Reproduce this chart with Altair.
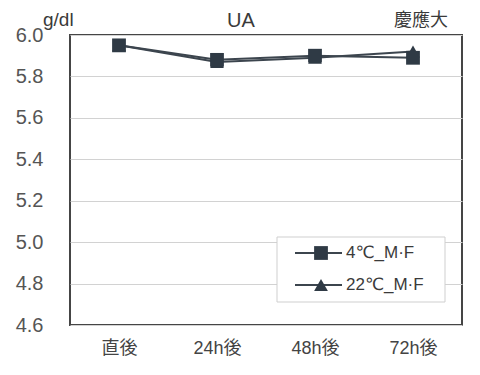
import altair as alt
import pandas as pd

# ---- data ----
times = ["直後", "24h後", "48h後", "72h後"]
series_names = ["4℃_M·F", "22℃_M·F"]
values_4c = [5.95, 5.88, 5.90, 5.89]
values_22c = [5.95, 5.87, 5.89, 5.92]
y_ticks = [4.6, 4.8, 5.0, 5.2, 5.4, 5.6, 5.8, 6.0]
shapes = ["square", "triangle-up"]

FONT = "Liberation Sans, DejaVu Sans, Noto Sans CJK JP, sans-serif"
DARK = "#2f3a45"
LINE = "#3c454e"

rows = []
for t, v in zip(times, values_22c):
    rows.append({"time": t, "series": series_names[1], "value": v})
for t, v in zip(times, values_4c):
    rows.append({"time": t, "series": series_names[0], "value": v})
df = pd.DataFrame(rows)

x_enc = alt.X("time:N", sort=times, scale=alt.Scale(type="point", padding=0.5),
              axis=alt.Axis(title=None, labelAngle=0))
y_enc = alt.Y("value:Q", scale=alt.Scale(domain=[4.6, 6.0], nice=False, zero=False),
              axis=alt.Axis(title=None, values=y_ticks, format=".1f"))
shape_enc = alt.Shape("series:N", scale=alt.Scale(domain=series_names, range=shapes), legend=None)

lines = alt.Chart(df).mark_line(color=LINE, strokeWidth=2).encode(
    x=x_enc, y=y_enc, detail="series:N")
points = alt.Chart(df).mark_point(filled=True, size=190, color=DARK, opacity=1).encode(
    x=x_enc, y=y_enc, shape=shape_enc)

# annotations
def label(txt, x, y, size, align="center"):
    return alt.Chart(pd.DataFrame({"t": [txt]})).mark_text(
        font=FONT, fontSize=size, color="#3a3a3a", align=align, baseline="middle"
    ).encode(x=alt.value(x), y=alt.value(y), text="t:N")

title_ua = label("UA", 171, -14, 20)
unit = label("g/dl", -27, -15, 19, align="left")
univ = label("慶應大", 351, -14, 18)

main = alt.layer(lines, points, title_ua, unit, univ)

# legend (inside plot, lower right)
leg_df = pd.DataFrame({"series": series_names})
leg_y = alt.Y("series:N", sort=series_names,
              scale=alt.Scale(type="point", domain=series_names, range=[218, 250], padding=0),
              axis=None)
box = alt.Chart(pd.DataFrame({"a": [0]})).mark_rect(
    fill="white", stroke="#cfcfcf", strokeWidth=1
).encode(x=alt.value(207), x2=alt.value(375), y=alt.value(202), y2=alt.value(267))
leg_rule = alt.Chart(leg_df).mark_rule(color=LINE, strokeWidth=2).encode(
    x=alt.value(225), x2=alt.value(272), y=leg_y)
leg_pts = alt.Chart(leg_df).mark_point(filled=True, size=190, color=DARK, opacity=1).encode(
    x=alt.value(251), y=leg_y, shape=shape_enc)
leg_txt = alt.Chart(leg_df).mark_text(
    font=FONT, fontSize=17, color="#3a3a3a", align="left", baseline="middle"
).encode(x=alt.value(276), y=leg_y, text="series:N")
legend = alt.layer(box, leg_rule, leg_pts, leg_txt)

chart = alt.layer(main, legend).resolve_scale(y="independent").properties(
    width=392, height=290,
    autosize=alt.AutoSizeParams(type="none"),
    padding={"left": 62, "top": 27, "right": 10, "bottom": 42},
    background="white",
).configure_view(
    stroke="#454545", strokeWidth=2
).configure_axisX(
    labelFont=FONT, labelFontSize=18, labelColor="#444", domain=False, ticks=False,
    labelPadding=14, grid=False
).configure_axisY(
    labelFont=FONT, labelFontSize=20, labelColor="#555", domain=False, ticks=False,
    labelPadding=27, grid=True, gridColor="#d2d2d2", gridWidth=1
)

chart.save("out.html", embed_options={"renderer": "svg", "actions": False})
